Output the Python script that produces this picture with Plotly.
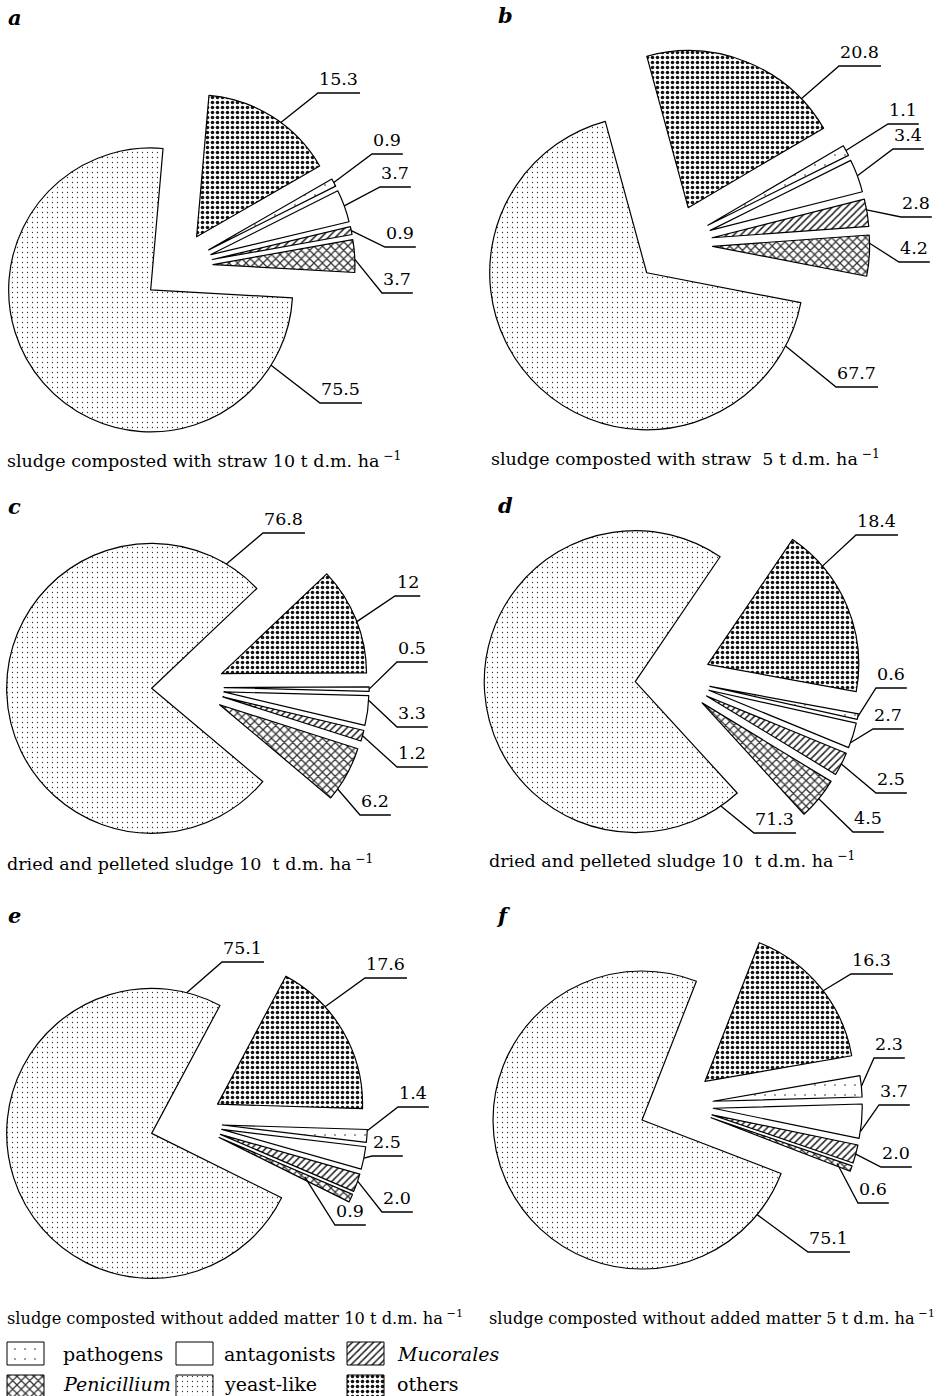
import math
import plotly.graph_objects as go

W, H = 952, 1396
SERIF = "DejaVu Serif"

# ---------------- data ----------------
CATEGORIES = ["others", "pathogens", "antagonists", "Mucorales", "Penicillium", "yeast-like"]
PANELS = ["a", "b", "c", "d", "e", "f"]
CAPTIONS = [
    "sludge composted with straw 10 t d.m. ha",
    "sludge composted with straw\u00a0 5 t d.m. ha",
    "dried and pelleted sludge 10\u00a0 t d.m. ha",
    "dried and pelleted sludge 10\u00a0 t d.m. ha",
    "sludge composted without added matter 10 t d.m. ha",
    "sludge composted without added matter 5 t d.m. ha",
]
SHARES_A = [15.3, 0.9, 3.7, 0.9, 3.7, 75.5]
SHARES_B = [20.8, 1.1, 3.4, 2.8, 4.2, 67.7]
SHARES_C = [12, 0.5, 3.3, 1.2, 6.2, 76.8]
SHARES_D = [18.4, 0.6, 2.7, 2.5, 4.5, 71.3]
SHARES_E = [17.6, 1.4, 2.5, 2.0, 0.9, 75.1]
SHARES_F = [16.3, 2.3, 3.7, 2.0, 0.6, 75.1]
SHARES = [SHARES_A, SHARES_B, SHARES_C, SHARES_D, SHARES_E, SHARES_F]

LEGEND_ORDER = ["pathogens", "antagonists", "Mucorales", "Penicillium", "yeast-like", "others"]
LEGEND_TEXT = {"pathogens": "pathogens", "antagonists": "antagonists", "Mucorales": "<i>Mucorales</i>",
               "Penicillium": "<i>Penicillium</i>", "yeast-like": "yeast-like", "others": "others"}

# ---------------- styles ----------------
PATTERNS = {
    "others":      dict(shape=".", size=5, solidity=0.4, fg="#111111"),
    "pathogens":   dict(shape=".", size=10, solidity=0.02, fg="#222222"),
    "antagonists": dict(shape="", size=8, solidity=0.3, fg="#000000"),
    "Mucorales":   dict(shape="/", size=5, solidity=0.3, fg="#222222"),
    "Penicillium": dict(shape="x", size=6, solidity=0.38, fg="#333333"),
    "yeast-like":  dict(shape=".", size=5, solidity=0.05, fg="#333333"),
}

# pie centre (px), radius (px), start angle (deg, clockwise from 12 o'clock)
PIE_GEOM = {
    "a": (177.5, 266.7, 142, 5.0),
    "b": (673.4, 244.0, 157, -15.3),
    "c": (187.9, 687.2, 145, 46.5),
    "d": (672.9, 678.9, 151, 34.2),
    "e": (186.2, 1122.3, 145, 28.1),
    "f": (676.1, 1105.0, 149, 21.4),
}
PULL = 0.25

# label placement: elbow of the leader line (px), in category order
LABEL_ELBOW = {
    "a": [(318, 93), (372, 154), (380, 187), (385, 247), (382, 293), (320, 403)],
    "b": [(839, 66), (888, 124), (893, 149), (901, 217), (899, 262), (836, 387)],
    "c": [(395, 596), (397, 662), (397, 727), (397, 767), (360, 815), (263, 533)],
    "d": [(856, 535), (876, 688), (873, 729), (876, 793), (853, 832), (754, 833)],
    "e": [(365, 978), (398, 1107), (372, 1156), (382, 1212), (335, 1225), (222, 962)],
    "f": [(851, 974), (874, 1058), (879, 1105), (881, 1167), (858, 1203), (808, 1252)],
}
# where the leader touches the slice: (fraction along the arc, fraction of radius)
ANCHOR = {
    "a": [(0.57, 1), (0.5, 1), (0.5, 1), (0.5, 1), (0.6, 1), (0.106, 1)],
    "b": [(0.82, 1), (0.5, 1), (0.5, 1), (0.4, 1), (0.2, 1), (0.069, 1)],
    "c": [(0.52, 1), (0.5, 1), (0.15, 1), (0.5, 1), (0.8, 1), (0.944, 1)],
    "d": [(0.23, 1), (0.5, 1), (0.8, 1), (0.5, 1), (0.5, 1), (0.031, 1)],
    "e": [(0.31, 1), (0.1, 1), (0.5, 1), (0.4, 1), (0.5, 0.65), (0.948, 1)],
    "f": [(0.53, 1), (0.5, 1), (0.8, 1), (0.5, 1), (0.5, 0.9), (0.068, 1)],
}
PANEL_LETTER_POS = {"a": (6, 17), "b": (496, 15), "c": (6, 506), "d": (496, 505), "e": (6, 915), "f": (494, 915)}
CAPTION_POS = {"a": (5, 460), "b": (489, 458), "c": (5, 863), "d": (487, 860), "e": (5, 1317), "f": (487, 1317)}
CAPTION_FS = {"a": 17.5, "b": 17.5, "c": 17.5, "d": 17.5, "e": 16.2, "f": 16.2}

LABEL_FS = 17.5
LEGEND_FS = 19

LEG_COL_X = [7, 176, 347]
LEG_TEXT_X = [61, 222, 395]
LEG_ROW_Y = [1342, 1375]
LEG_TEXT_Y = [1354, 1384]
LEG_BOX = (37, 23)


def px(x):
    return x / W


def py(y):
    return 1 - y / H


def text_width(s, fs):
    w = 0.0
    for ch in s:
        w += 0.318 if ch == "." else 0.636
    return w * fs


def unit(theta):
    t = math.radians(theta)
    return math.sin(t), -math.cos(t)


fig = go.Figure()
shapes = []
annotations = []

for pid, caption, vals in zip(PANELS, CAPTIONS, SHARES):
    cx, cy, r, rot = PIE_GEOM[pid]
    R = r * (1 + PULL)
    dom_x = [max(0.0, px(cx - R)), min(1.0, px(cx + R))]
    dom_y = [max(0.0, py(cy + R)), min(1.0, py(cy - R))]
    fig.add_trace(go.Pie(
        labels=CATEGORIES,
        values=vals,
        sort=False,
        direction="clockwise",
        rotation=rot,
        pull=PULL,
        textinfo="none",
        hoverinfo="label+value",
        showlegend=False,
        domain=dict(x=dom_x, y=dom_y),
        marker=dict(
            colors=["white"] * len(CATEGORIES),
            line=dict(color="black", width=1.2),
            pattern=dict(
                shape=[PATTERNS[c]["shape"] for c in CATEGORIES],
                size=[PATTERNS[c]["size"] for c in CATEGORIES],
                solidity=[PATTERNS[c]["solidity"] for c in CATEGORIES],
                fgcolor=[PATTERNS[c]["fg"] for c in CATEGORIES],
                bgcolor=["white"] * len(CATEGORIES),
                fillmode="replace",
            ),
        ),
    ))

    # value labels with leader lines
    total = float(sum(vals))
    start = rot
    for i, v in enumerate(vals):
        span = 360.0 * v / total
        mid = start + span / 2
        ux, uy = unit(mid)
        vx, vy = cx + PULL * r * ux, cy + PULL * r * uy
        t, rho = ANCHOR[pid][i]
        ax_, ay_ = unit(start + t * span)
        p0 = (vx + rho * r * ax_, vy + rho * r * ay_)
        ex, ey = LABEL_ELBOW[pid][i]
        txt = str(v)
        L = text_width(txt, LABEL_FS) + 3
        shapes.append(dict(
            type="path", xref="paper", yref="paper",
            path=f"M {px(p0[0])},{py(p0[1])} L {px(ex)},{py(ey)} L {px(ex + L)},{py(ey)}",
            line=dict(color="black", width=1.3),
        ))
        annotations.append(dict(
            x=px(ex + L / 2), y=py(ey - 2), xref="paper", yref="paper",
            text=txt, showarrow=False, xanchor="center", yanchor="bottom",
            font=dict(family=SERIF, size=LABEL_FS, color="black"),
        ))
        start += span

    lx, ly = PANEL_LETTER_POS[pid]
    annotations.append(dict(
        x=px(lx), y=py(ly), xref="paper", yref="paper", text=f"<b><i>{pid}</i></b>",
        showarrow=False, xanchor="left", yanchor="middle",
        font=dict(family=SERIF, size=21, color="black"),
    ))
    tx, ty = CAPTION_POS[pid]
    annotations.append(dict(
        x=px(tx), y=py(ty), xref="paper", yref="paper", text=caption + "<sup>\u00a0\u22121</sup>",
        showarrow=False, xanchor="left", yanchor="middle",
        font=dict(family=SERIF, size=CAPTION_FS[pid], color="black"),
    ))

# legend swatches drawn as bars carrying the same fill patterns
bx, by, bw, bh, bshape, bsize, bsol, bfg = [], [], [], [], [], [], [], []
for k, cat in enumerate(LEGEND_ORDER):
    col, row = k % 3, k // 3
    bx.append(LEG_COL_X[col] + LEG_BOX[0] / 2)
    by.append(LEG_ROW_Y[row])
    bw.append(LEG_BOX[0])
    bh.append(LEG_BOX[1])
    p = PATTERNS[cat]
    bshape.append(p["shape"])
    bsize.append(p["size"])
    bsol.append(p["solidity"])
    bfg.append(p["fg"])
    annotations.append(dict(
        x=LEG_TEXT_X[col], y=LEG_TEXT_Y[row], xref="x", yref="y",
        text=LEGEND_TEXT[cat], showarrow=False, xanchor="left", yanchor="middle",
        font=dict(family=SERIF, size=LEGEND_FS, color="black"),
    ))

fig.add_trace(go.Bar(
    x=bx, y=bh, base=by, width=bw, showlegend=False, hoverinfo="skip",
    marker=dict(
        color="white", line=dict(color="black", width=1),
        pattern=dict(shape=bshape, size=bsize, solidity=bsol, fgcolor=bfg,
                     bgcolor="white", fillmode="replace"),
    ),
))

LEG_X_EXT = 530
LEG_TOP = 1334
fig.update_layout(
    width=W, height=H,
    margin=dict(l=0, r=0, t=0, b=0),
    paper_bgcolor="white", plot_bgcolor="rgba(0,0,0,0)",
    showlegend=False,
    barmode="overlay",
    xaxis=dict(domain=[0, LEG_X_EXT / W], range=[0, LEG_X_EXT], visible=False, fixedrange=True),
    yaxis=dict(domain=[0, (H - LEG_TOP) / H], range=[H, LEG_TOP], visible=False, fixedrange=True),
    shapes=shapes,
    annotations=annotations,
)

fig.write_html("out.html")
